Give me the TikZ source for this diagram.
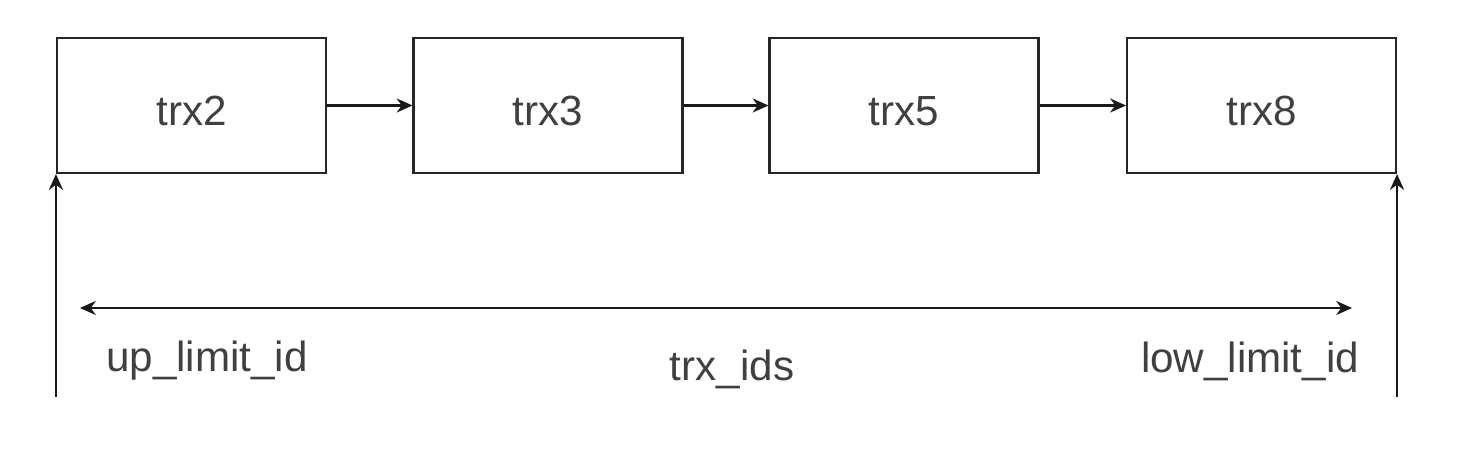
\documentclass[tikz,border=0pt]{standalone}
\usepackage{fontspec}
\setmainfont{Liberation Sans}
\usetikzlibrary{arrows.meta}
\tikzset{
  trx/.style={draw=black!85,line width=1.2pt,minimum width=5.38cm,minimum height=2.7cm,inner sep=0pt,text height=23pt,text=black!75,font=\fontsize{24}{28}\selectfont},
  lbl/.style={inner sep=0pt,text=black!75,font=\fontsize{24}{28}\selectfont},
  link/.style={draw=black!90,line width=1.2pt,-{Stealth[length=9pt,width=8pt]}}
}
\begin{document}
\begin{tikzpicture}
\useasboundingbox (0,0) rectangle (29.44,-9.16);
\node[trx] (t2) at (3.83,-2.11) {trx2};
\node[trx] (t3) at (10.96,-2.11) {trx3};
\node[trx] (t5) at (18.08,-2.11) {trx5};
\node[trx] (t8) at (25.23,-2.11) {trx8};
\coordinate (upfoot) at (t2.south west |- 0,-7.94);
\coordinate (lowfoot) at (t8.south east |- 0,-7.94);
\coordinate (idsl) at (1.6,-6.16);
\coordinate (idsr) at (27.04,-6.16);
\node[lbl] (up) at (4.14,-7.22) {up\_limit\_id};
\node[lbl] (ids) at (14.64,-7.38) {trx\_ids};
\node[lbl] (low) at (25.0,-7.22) {low\_limit\_id};
\draw[link] (t2) -- (t3);
\draw[link] (t3) -- (t5);
\draw[link] (t5) -- (t8);
\draw[link] (upfoot) -- (t2.south west);
\draw[link] (lowfoot) -- (t8.south east);
\draw[link,{Stealth[length=9pt,width=8pt]}-{Stealth[length=9pt,width=8pt]}] (idsl) -- (idsr);
\end{tikzpicture}
\end{document}
